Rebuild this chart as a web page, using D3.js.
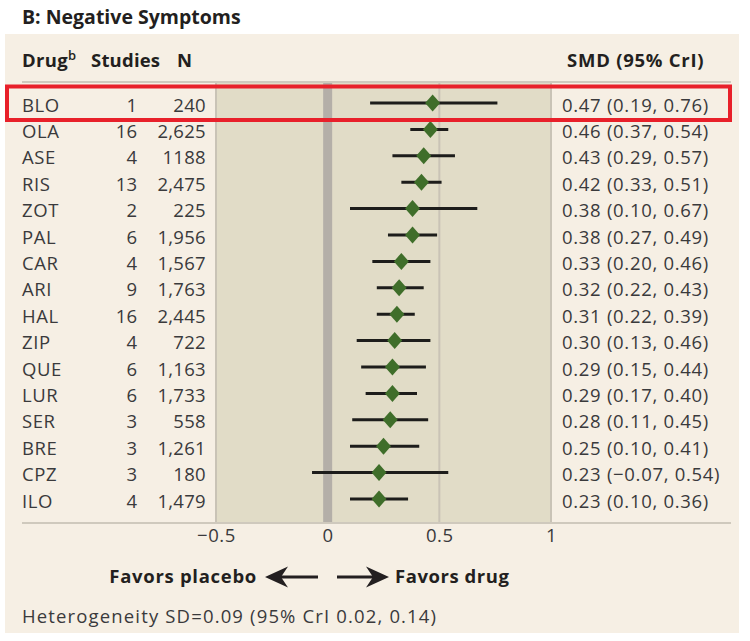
<!DOCTYPE html>
<html><head><meta charset="utf-8">
<script src="https://cdn.jsdelivr.net/npm/d3@7"></script>
<style>
body{margin:0;background:#fff;}
svg{display:block;font-family:"Open Sans",sans-serif;}
</style></head>
<body><svg id="c" width="750" height="641"></svg>
<script>
const drugs   = ["BLO","OLA","ASE","RIS","ZOT","PAL","CAR","ARI","HAL","ZIP","QUE","LUR","SER","BRE","CPZ","ILO"];
const studies = [1,16,4,13,2,6,4,9,16,4,6,6,3,3,3,4];
const nLabels = ["240","2,625","1188","2,475","225","1,956","1,567","1,763","2,445","722","1,163","1,733","558","1,261","180","1,479"];
const smd     = [0.47,0.46,0.43,0.42,0.38,0.38,0.33,0.32,0.31,0.30,0.29,0.29,0.28,0.25,0.23,0.23];
const lower   = [0.19,0.37,0.29,0.33,0.10,0.27,0.20,0.22,0.22,0.13,0.15,0.17,0.11,0.10,-0.07,0.10];
const upper   = [0.76,0.54,0.57,0.51,0.67,0.49,0.46,0.43,0.39,0.46,0.44,0.40,0.45,0.41,0.54,0.36];
const xTicks  = [-0.5,0,0.5,1];

(function(){
const FS = 18.5;
const svg = d3.select("#c");
const x = d3.scaleLinear().domain([-0.5,1]).range([216,551]);
const y = d3.scalePoint().domain(drugs).range([103,499]);
const rows = drugs.map((d,i)=>({drug:d,st:studies[i],n:nLabels[i],m:smd[i],lo:lower[i],hi:upper[i]}));
const f2 = d3.format(".2f");

svg.append("text").attr("x",22).attr("y",24).attr("font-size",19.5).attr("font-weight",700)
  .attr("fill","#231f20").text("B: Negative Symptoms");

svg.append("rect").attr("x",5).attr("y",34).attr("width",734).attr("height",599).attr("fill","#f6efe4");

const pTop=83, pBot=523;
svg.append("rect").attr("x",x(-0.5)).attr("y",pTop).attr("width",x(1)-x(-0.5)).attr("height",pBot-pTop).attr("fill","#e1dcc7");
svg.selectAll(".g").data([-0.5,0.5,1]).join("line")
  .attr("x1",d=>x(d)).attr("x2",d=>x(d)).attr("y1",pTop).attr("y2",pBot)
  .attr("stroke","#c9c3b6").attr("stroke-width",2);
svg.append("line").attr("x1",x(0)).attr("x2",x(0)).attr("y1",pTop).attr("y2",pBot)
  .attr("stroke","#b4afa8").attr("stroke-width",9);

const hy=67;
const hdr = svg.append("g").attr("font-size",FS).attr("font-weight",700).attr("fill","#231f20");
const dt = hdr.append("text").attr("x",22).attr("y",hy).attr("letter-spacing",0.3);
dt.append("tspan").text("Drug");
dt.append("tspan").attr("font-size",13).attr("dy",-7).attr("font-weight",600).text("b");
hdr.append("text").attr("x",91).attr("y",hy).attr("letter-spacing",0.2).text("Studies");
hdr.append("text").attr("x",177).attr("y",hy).text("N");
hdr.append("text").attr("x",567).attr("y",hy).attr("letter-spacing",0.75).text("SMD (95% CrI)");
svg.append("line").attr("x1",22).attr("x2",731).attr("y1",82).attr("y2",82).attr("stroke","#cfc9bd").attr("stroke-width",2);
svg.append("line").attr("x1",22).attr("x2",731).attr("y1",pBot).attr("y2",pBot).attr("stroke","#cfc9bd").attr("stroke-width",2);

const ty = 8.5;
const tg = svg.append("g").attr("font-size",FS).attr("fill","#3a3a3c");
tg.selectAll(".d").data(rows).join("text").attr("x",22).attr("y",d=>y(d.drug)+ty).attr("letter-spacing",0.6).text(d=>d.drug);
tg.selectAll(".s").data(rows).join("text").attr("x",137).attr("y",d=>y(d.drug)+ty).attr("text-anchor","end").text(d=>d.st);
tg.selectAll(".n").data(rows).join("text").attr("x",206).attr("y",d=>y(d.drug)+ty).attr("text-anchor","end").attr("letter-spacing",0.3).text(d=>d.n);
tg.selectAll(".m").data(rows).join("text").attr("x",562).attr("y",d=>y(d.drug)+ty).attr("letter-spacing",0.7)
  .text(d=>`${f2(d.m)} (${f2(d.lo)}, ${f2(d.hi)})`);

svg.selectAll(".ci").data(rows).join("line")
  .attr("x1",d=>x(d.lo)).attr("x2",d=>x(d.hi)).attr("y1",d=>y(d.drug)).attr("y2",d=>y(d.drug))
  .attr("stroke","#1d1d1b").attr("stroke-width",3);
svg.selectAll(".dm").data(rows).join("path")
  .attr("d",d=>{const cx=x(d.m),cy=y(d.drug);return `M${cx},${cy-8.5}L${cx+7.5},${cy}L${cx},${cy+8.5}L${cx-7.5},${cy}Z`;})
  .attr("fill","#3f6e2a");

const ax = svg.append("g").attr("transform",`translate(0,${pBot})`)
  .call(d3.axisBottom(x).tickValues(xTicks).tickSize(0).tickPadding(6).tickFormat(d3.format("")));
ax.select(".domain").remove();
ax.selectAll("text").attr("font-size",FS).attr("fill","#3a3a3c").attr("font-family","'Open Sans',sans-serif").attr("letter-spacing",0.6);

const fy=583;
svg.append("text").attr("x",257).attr("y",fy).attr("text-anchor","end").attr("font-size",FS).attr("font-weight",700).attr("fill","#231f20").attr("letter-spacing",0.7).text("Favors placebo");
svg.append("text").attr("x",395).attr("y",fy).attr("font-size",FS).attr("font-weight",700).attr("fill","#231f20").attr("letter-spacing",0.55).text("Favors drug");
const ay=fy-6;
function arrow(tail,tip){
  const dir = tip>tail?1:-1;
  svg.append("line").attr("x1",tail).attr("x2",tip-dir*14).attr("y1",ay).attr("y2",ay).attr("stroke","#231f20").attr("stroke-width",3);
  svg.append("path").attr("d",`M${tip},${ay}L${tip-dir*23},${ay-10.5}L${tip-dir*16},${ay}L${tip-dir*23},${ay+10.5}Z`).attr("fill","#231f20");
}
arrow(318,265);
arrow(337,389);

svg.append("text").attr("x",22).attr("y",623).attr("font-size",FS).attr("fill","#3a3a3c").attr("letter-spacing",1.15)
  .text("Heterogeneity SD=0.09 (95% CrI 0.02, 0.14)");

svg.append("rect").attr("x",7).attr("y",y(drugs[0])-16.5).attr("width",723).attr("height",33.5)
  .attr("fill","none").attr("stroke","#e8202a").attr("stroke-width",4);
})();
</script></body></html>
